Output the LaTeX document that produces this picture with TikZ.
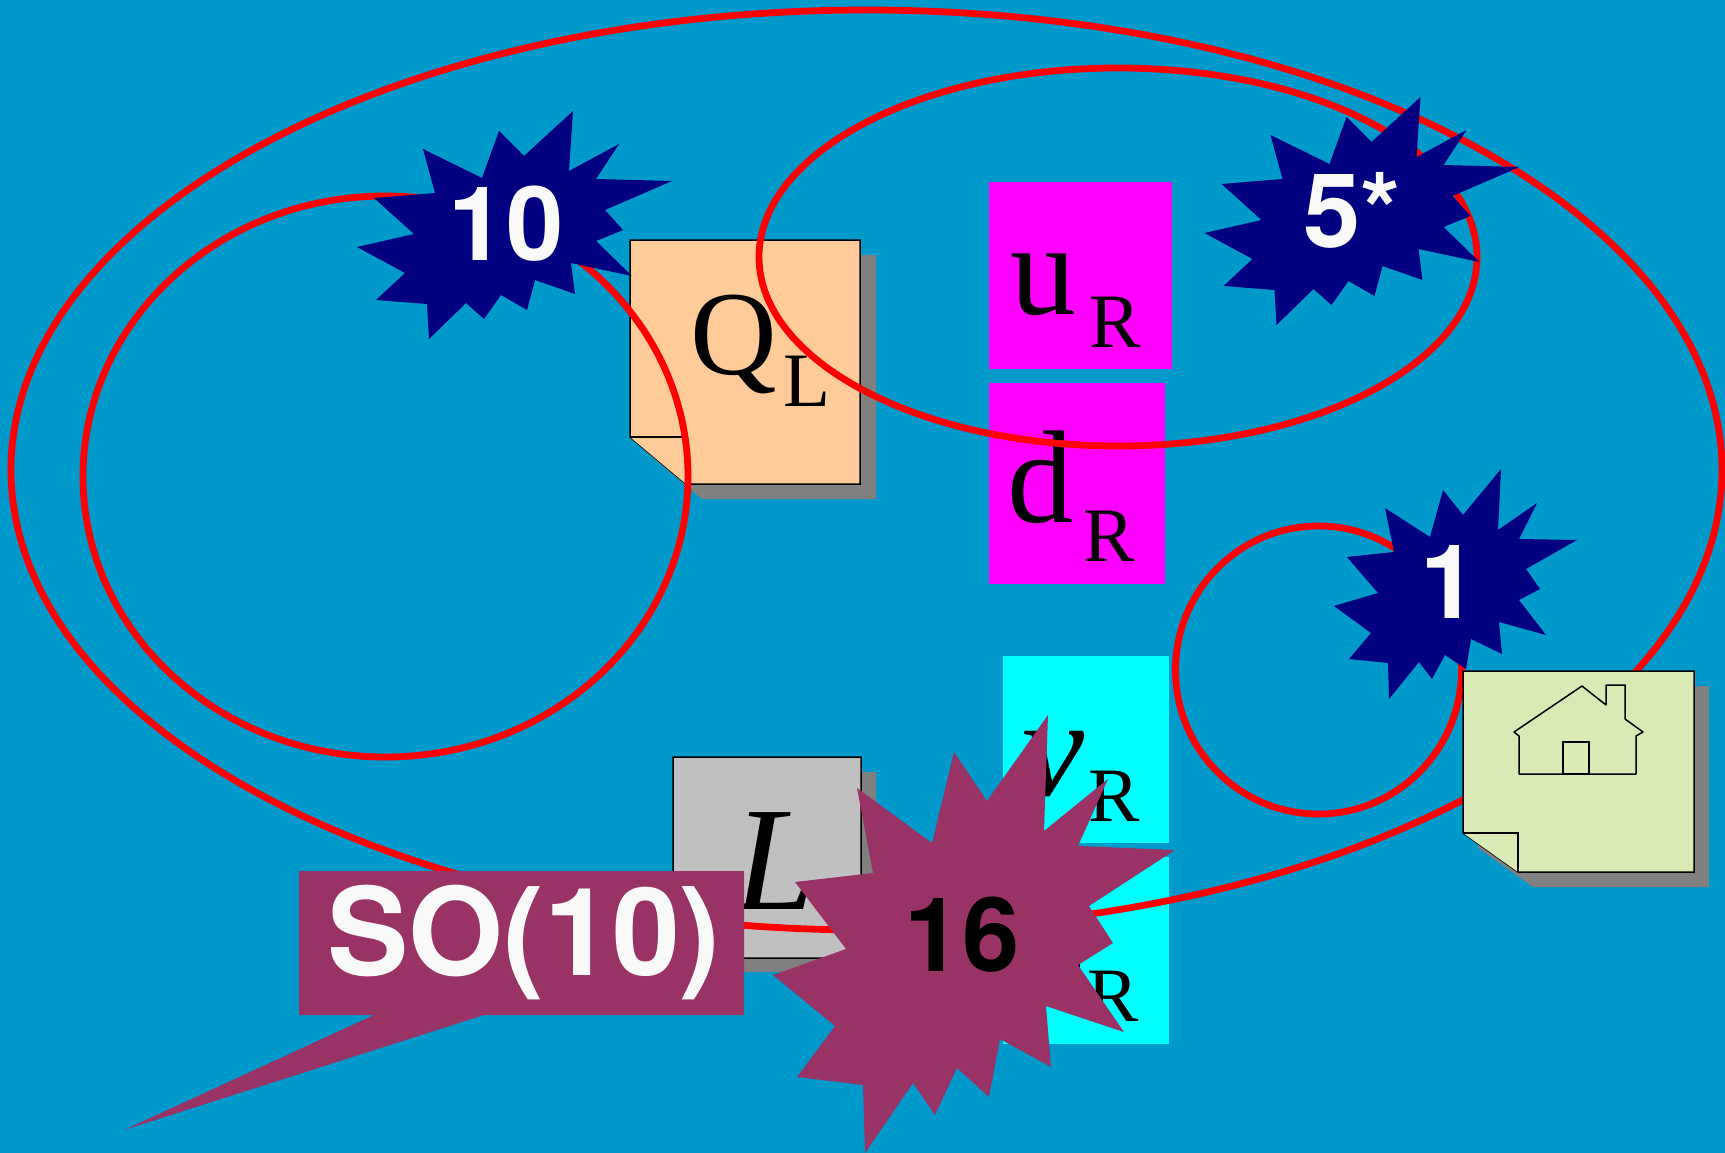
\documentclass[tikz,border=0pt]{standalone}
\usepackage{fontspec}
\setmainfont{Liberation Serif}
\setsansfont{TeX Gyre Heros}
\usepackage{xcolor}
\definecolor{seablue}{HTML}{0099CC}
\definecolor{burstnavy}{HTML}{000080}
\definecolor{plum}{HTML}{993366}
\definecolor{peach}{HTML}{FFCC99}
\definecolor{palegreen}{HTML}{DAEAB5}
\definecolor{shadowgray}{HTML}{808080}
\definecolor{cardgray}{HTML}{C0C0C0}
\definecolor{offwhite}{HTML}{F9F9F9}
\definecolor{quarkmagenta}{HTML}{FF00FF}
\definecolor{leptoncyan}{HTML}{00FFFF}
\definecolor{loopred}{HTML}{FF0000}
\newcommand{\tenburst}{(573,111) -- (569,171) -- (619,144) -- (596,179) -- (672,181) -- (605,210) -- (623,230) -- (596,241) -- (632,276) -- (571,263) -- (575,294) -- (535,280) -- (527,310) -- (501,295) -- (484,319) -- (466,303) -- (429,339) -- (427,304) -- (376,300) -- (405,273) -- (357,247) -- (414,234) -- (374,198) -- (435,193) -- (423,149) -- (482,178) -- (499,131) -- (524,156) -- cycle}
\usetikzlibrary{positioning}

\begin{document}
\begin{tikzpicture}[
        x=1pt, y=-1pt,
        card/.style={draw=black, line width=1.5pt, fill=#1},
        cardshadow/.style={fill=shadowgray},
        loopline/.style={draw=loopred, line width=6.8pt},
        burst/.style={fill=burstnavy},
        bignum/.style={font=\sffamily\bfseries\fontsize{103}{103}\selectfont, text=offwhite, inner sep=0pt},
        letter/.style={font=\fontsize{#1}{#1}\selectfont, anchor=base west, inner sep=0pt},
        letter/.default=132,
        sub/.style={font=\fontsize{77}{77}\selectfont, anchor=base west, inner sep=0pt},
    ]
    \useasboundingbox (0,0) rectangle (1725,1153);
    \fill[seablue] (0,0) rectangle (1725,1153);

    % Q_L card
    \fill[cardshadow] (646,255) -- (876,255) -- (876,499) -- (702,499) -- (646,452) -- cycle;
    \draw[card=peach] (630,240) -- (860,240) -- (860,484) -- (686,484) -- (630,437) -- cycle;
    \draw[card=peach] (630,437) -- (686,437) -- (686,484);
    \node[letter=120] (ql) at (690,374) {Q};
    \node[sub] (qlsub) at (783,406) {L};

    % L card
    \fill[cardshadow] (689,772) -- (876,772) -- (876,972) -- (736,972) -- (689,931) -- cycle;
    \draw[card=cardgray] (673,757) -- (861,757) -- (861,958) -- (720,958) -- (673,916) -- cycle;
    \node[letter=148, font=\itshape\fontsize{148}{148}\selectfont] (lep) at (734,909) {L};

    % Right-handed quarks
    \fill[quarkmagenta] (989,182) rectangle (1172,369);
    \node[letter] (ur) at (1010,314) {u};
    \node[sub] (ursub) at (1089,347) {R};
    \fill[quarkmagenta] (989,383) rectangle (1165,584);
    \node[letter] (dr) at (1007,522) {d};
    \node[sub] (drsub) at (1083,561) {R};

    % Right-handed leptons
    \fill[leptoncyan] (1003,656) rectangle (1169,843);
    \node[letter=140, font=\itshape\fontsize{140}{140}\selectfont] (nur) at (1022,795) {ν};
    \node[sub] (nursub) at (1088,821) {R};
    \fill[leptoncyan] (1003,857) rectangle (1169,1044);
    \node[letter] (er) at (1026,1000) {e};
    \node[sub] (ersub) at (1087,1021) {R};

    % Red loops
    \draw[loopline] (866.5,470) ellipse [x radius=855.5, y radius=460];
    \draw[loopline] (385.5,476.5) ellipse [x radius=302.5, y radius=280.5];
    \draw[loopline] (1118,257) ellipse [x radius=359, y radius=189];
    \draw[loopline] (1318.5,670) ellipse [x radius=143, y radius=144];

    % House card
    \fill[cardshadow] (1478,686) -- (1709,686) -- (1709,887) -- (1533,887) -- (1478,848) -- cycle;
    \draw[card=palegreen] (1463,671) -- (1694,671) -- (1694,872) -- (1518,872) -- (1463,833) -- cycle;
    \draw[card=palegreen] (1463,833) -- (1518,833) -- (1518,872);
    \draw[line width=1.5pt, line join=round] (1514,732) -- (1582,686) -- (1606,705) -- (1606,685) -- (1625,685) -- (1625,719) -- (1643,732) -- (1636,736) -- (1636,774) -- (1519,774) -- (1519,736) -- cycle;
    \draw[line width=1.5pt] (1563,742) rectangle (1589,774);

    % Bursts
    \fill[burst] \tenburst;
    \node[bignum] (ten) at (506,224) {10};
    \fill[burst, shift={(847.5,-14)}] \tenburst;
    \node[bignum] (fivebar) at (1352,210) {5*};
    \fill[burst] (1501,469) -- (1498,530) -- (1537,503) -- (1519,539) -- (1577,540) -- (1526,569) -- (1540,589) -- (1519,600) -- (1546,635) -- (1499,622) -- (1502,654) -- (1471,639) -- (1466,669) -- (1445,655) -- (1432,679) -- (1419,662) -- (1389,699) -- (1388,663) -- (1349,659) -- (1371,633) -- (1334,606) -- (1378,593) -- (1347,557) -- (1394,552) -- (1385,508) -- (1430,537) -- (1443,490) -- (1463,515) -- cycle;
    \node[bignum] (one) at (1449,582) {1};

    % SO(10) callout
    \fill[plum] (299,871) -- (744,871) -- (744,1015) -- (484,1015) -- (124,1130) -- (374,1015) -- (299,1015) -- cycle;
    \node[font=\sffamily\bfseries\fontsize{122}{122}\selectfont, text=offwhite, inner sep=0pt] (sogroup) at (524,942) {SO(10)};

    % 16 burst
    \fill[plum] (1048,715) -- (1044,831) -- (1108,779) -- (1078,846) -- (1175,850) -- (1089,906) -- (1113,943) -- (1078,965) -- (1124,1032) -- (1046,1006) -- (1051,1067) -- (1000,1039) -- (989,1097) -- (957,1068) -- (935,1115) -- (913,1083) -- (865,1153) -- (863,1085) -- (797,1077) -- (835,1026) -- (773,975) -- (846,949) -- (795,882) -- (873,873) -- (857,788) -- (932,843) -- (954,752) -- (987,801) -- cycle;
    \node[bignum, text=black] (sixteen) at (962,935) {16};
\end{tikzpicture}
\end{document}
